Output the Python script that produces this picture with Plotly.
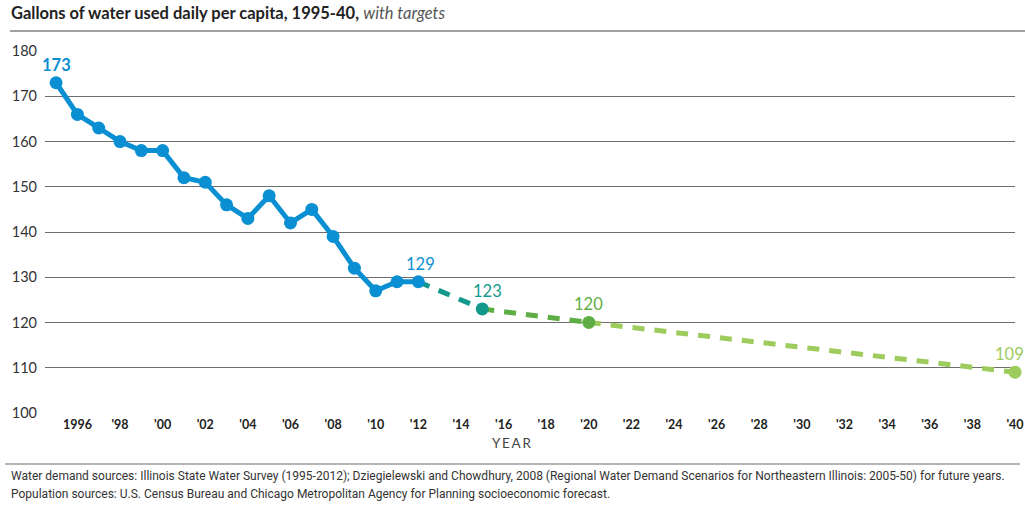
import plotly.graph_objects as go

years_hist = list(range(1995, 2013))
values_hist = [173, 166, 163, 160, 158, 158, 152, 151, 146, 143, 148, 142, 145, 139, 132, 127, 129, 129]

target_years = [2012, 2015, 2020, 2040]
target_values = [129, 123, 120, 109]
seg_colors = ["#12998c", "#5fae45", "#9dcc5c"]
marker_colors = ["#12998c", "#5fae45", "#9dcc5c"]

tick_years = list(range(1996, 2041, 2))
tick_text = ["<b>1996</b>"] + ["<b>'" + str(y)[2:] + "</b>" for y in tick_years[1:]]
y_ticks = [100, 110, 120, 130, 140, 150, 160, 170, 180]

BLUE = "#0a90d2"
label_points = [
    (1995, 173, BLUE, True, 0),
    (2012, 129, BLUE, False, 2),
    (2015, 123, "#12998c", False, 5),
    (2020, 120, "#5fae45", False, 0),
    (2040, 109, "#9dcc5c", False, -6),
]

PW, PH = 970, 362  # plot area size in px

fig = go.Figure()

for i in range(3):
    fig.add_trace(go.Scatter(
        x=target_years[i:i + 2], y=target_values[i:i + 2], mode="lines",
        line=dict(color=seg_colors[i], width=5, dash="12px,10px"),
        hoverinfo="skip", showlegend=False, cliponaxis=False))

fig.add_trace(go.Scatter(
    x=years_hist, y=values_hist, mode="lines+markers",
    line=dict(color=BLUE, width=5), marker=dict(color=BLUE, size=13),
    showlegend=False, cliponaxis=False))

fig.add_trace(go.Scatter(
    x=target_years[1:], y=target_values[1:], mode="markers",
    marker=dict(color=marker_colors, size=13),
    showlegend=False, cliponaxis=False))

for x, y, c, b, xs in label_points:
    txt = "<b>%d</b>" % y if b else str(y)
    fig.add_annotation(x=x, y=y, text=txt, showarrow=False, yshift=18, xshift=xs,
                       font=dict(family="Lato", size=16.5, color=c))

fig.update_layout(
    width=1025, height=510,
    margin=dict(l=45, r=10, t=51, b=97, autoexpand=False),
    paper_bgcolor="white", plot_bgcolor="white",
    font=dict(family="Lato", color="#333333"),
    xaxis=dict(range=[1994.48, 2040], tickvals=tick_years, ticktext=tick_text,
               showgrid=False, zeroline=False, showline=False, automargin=False,
               tickfont=dict(family="Lato", size=12.5, color="#222222"),
               ticklabelstandoff=2),
    yaxis=dict(range=[99.98, 180.02], tickvals=y_ticks, showgrid=True,
               gridcolor="#6e6e6e", gridwidth=1, zeroline=False, automargin=False,
               tickfont=dict(family="Lato", size=14.5, color="#333333"),
               ticklabelstandoff=7),
)

def px_x(p):
    return (p - 45) / PW

def px_y(p):
    return (413 - p) / PH

fig.add_annotation(xref="paper", yref="paper", x=px_x(9), y=px_y(13),
                   xanchor="left", yanchor="middle", showarrow=False,
                   text="<b>Gallons of water used daily per capita, 1995-40,</b> <i><span style='color:#555555'>with targets</span></i>",
                   font=dict(family="Lato", size=16.5, color="#222222"))
fig.add_annotation(xref="paper", yref="paper", x=px_x(511), y=px_y(443),
                   xanchor="center", yanchor="middle", showarrow=False,
                   text="Y\u2009E\u2009A\u2009R", font=dict(family="Lato", size=13.5, color="#444444"))
fig.add_annotation(xref="paper", yref="paper", x=px_x(9), y=px_y(476),
                   xanchor="left", yanchor="middle", showarrow=False,
                   text="Water demand sources: Illinois State Water Survey (1995-2012); Dziegielewski and Chowdhury, 2008 (Regional Water Demand Scenarios for Northeastern Illinois: 2005-50) for future years.",
                   font=dict(family="Roboto", size=12, color="#333333"))
fig.add_annotation(xref="paper", yref="paper", x=px_x(9), y=px_y(494),
                   xanchor="left", yanchor="middle", showarrow=False,
                   text="Population sources: U.S. Census Bureau and Chicago Metropolitan Agency for Planning socioeconomic forecast.",
                   font=dict(family="Roboto", size=12, color="#333333"))

fig.add_shape(type="line", xref="paper", yref="paper", x0=px_x(10), x1=px_x(1025),
              y0=px_y(31), y1=px_y(31), line=dict(color="#a0a0a0", width=2))
fig.add_shape(type="line", xref="paper", yref="paper", x0=px_x(5), x1=px_x(1020),
              y0=px_y(464), y1=px_y(464), line=dict(color="#b5b5b5", width=2))

fig.write_html("out.html", config={"displayModeBar": False},
               post_script="document.body.style.margin='0';")
